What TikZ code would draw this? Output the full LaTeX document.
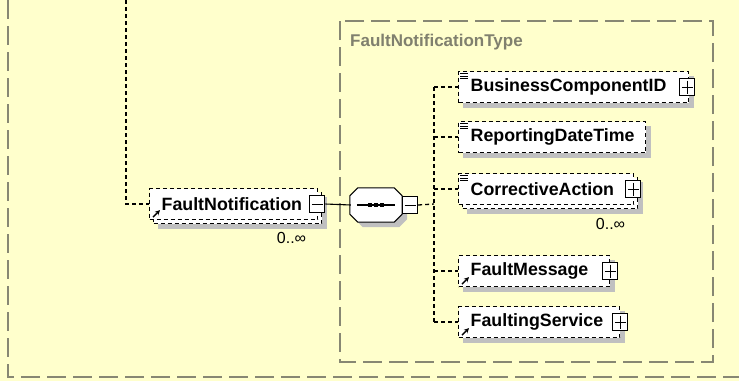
\documentclass[tikz,border=0pt]{standalone}
\usepackage{fontspec}
\setmainfont{Liberation Sans}
\usetikzlibrary{positioning,arrows.meta}
\definecolor{bgyellow}{RGB}{255,255,204}
\definecolor{framegray}{RGB}{135,135,115}
\definecolor{shadowgray}{RGB}{192,192,192}
\definecolor{typegray}{RGB}{128,128,110}
\pgfdeclarelayer{bg}
\pgfsetlayers{bg,main}

\begin{document}
\begin{tikzpicture}[x=1pt,y=-1pt,
  elem/.style={draw,dash pattern=on 4pt off 3pt,line width=1.3pt,fill=white,
    font=\fontsize{17.8}{20}\selectfont\bfseries,text width=#1pt,align=left,
    inner xsep=12pt,inner ysep=0pt,minimum height=31pt,anchor=west},
  collapsebox/.style={draw,solid,line width=1pt,fill=white,minimum width=15pt,minimum height=17pt,inner sep=0pt,
    path picture={\draw[line width=0.9pt] ([xshift=2pt]path picture bounding box.west) -- ([xshift=-2pt]path picture bounding box.east);}},
  expandbox/.style={collapsebox,
    path picture={\draw[line width=0.9pt] ([xshift=2pt]path picture bounding box.west) -- ([xshift=-2pt]path picture bounding box.east)
      ([yshift=-2pt]path picture bounding box.north) -- ([yshift=2pt]path picture bounding box.south);}},
  link/.style={draw,dash pattern=on 4pt off 3pt,line width=1.3pt},
  frame/.style={draw=framegray,line width=1.1pt,dash pattern=on 19pt off 7pt}]
\tikzstyle{seqbox}=[minimum width=52pt,minimum height=34pt,inner sep=0pt]
\tikzstyle{card}=[font=\fontsize{16}{18}\selectfont,inner sep=0pt]

\begin{pgfonlayer}{bg}
\fill[bgyellow] (0,0) rectangle (739,381);
\end{pgfonlayer}
\useasboundingbox (0,0) rectangle (739,381);

% frames
\draw[frame] (8,0) -- (8,377) -- (739,377);
\draw[frame] (340,21) rectangle (713,362);
\node[anchor=west,text=typegray,font=\fontsize{17}{20}\selectfont\bfseries,inner sep=0pt] (tl) at (350,42) {FaultNotificationType};

% global element
\node[elem=144] (fnb) at (153,208) {\phantom{FaultNotification}};
\node[elem=144] (fn) at (149,204) {FaultNotification};
\node[collapsebox] (fnm) at ([xshift=-1pt]fn.east) {};
\node[card,below left=8pt and 16pt of fnb.south east] (fnc) {0..∞};

% sequence
\node[seqbox] (sq) at (376,205) {};
\draw[line width=1pt,fill=white] ([xshift=8pt]sq.north west) -- ([xshift=-8pt]sq.north east) -- ([yshift=-8pt]sq.north east)
  -- ([yshift=8pt]sq.south east) -- ([xshift=-8pt]sq.south east) -- ([xshift=8pt]sq.south west)
  -- ([yshift=8pt]sq.south west) -- ([yshift=-8pt]sq.north west) -- cycle;
\node[collapsebox,right=0pt of sq] (sqm) {};
\draw[line width=1.3pt] ([xshift=7pt]sq.west) -- ([xshift=-7pt]sq.east);
\foreach \d in {-6,0,6}
  \fill ([xshift=\d pt]sq.center) +(-2.2,-2.2) rectangle +(2.2,2.2);

% children
\node[elem=206] (bc) at (458,87) {BusinessComponentID};
\node[expandbox] (bcp) at ([xshift=-2pt]bc.east) {};
\node[elem=163] (rd) at (458,137) {ReportingDateTime};
\node[elem=151] (cab) at (462,193) {\phantom{CorrectiveAction}};
\node[elem=151] (ca) at (458,189) {CorrectiveAction};
\node[expandbox] (cap) at ([xshift=-1pt]ca.east) {};
\node[card,below left=9pt and 13pt of cab.south east] (cac) {0..∞};
\node[elem=127] (fm) at (458,271) {FaultMessage};
\node[expandbox] (fmp) at (fm.east) {};
\node[elem=137] (fs) at (458,322) {FaultingService};
\node[expandbox] (fsp) at (fs.east) {};

% shadows
\begin{pgfonlayer}{bg}
\foreach \n in {fnb,bc,rd,cab,fm,fs}
  \fill[shadowgray] ([shift={(5,5)}]\n.north west) rectangle ([shift={(5,5)}]\n.south east);
\fill[shadowgray,transform canvas={shift={(5pt,-5pt)}}] ([xshift=8pt]sq.north west) -- ([xshift=-8pt]sq.north east) -- ([yshift=-8pt]sq.north east)
  -- ([yshift=8pt]sq.south east) -- ([xshift=-8pt]sq.south east) -- ([xshift=8pt]sq.south west)
  -- ([yshift=8pt]sq.south west) -- ([yshift=-8pt]sq.north west) -- cycle;
\end{pgfonlayer}

% icons
\foreach \n in {bc,rd,ca}
  \foreach \k in {3,5.5,8}
    \draw[line width=0.9pt] ([shift={(2,\k)}]\n.north west) -- ++(8,0);
\foreach \n in {fn,fm,fs}
  \draw[-{Stealth[length=5pt,width=5pt]},line width=1.4pt] ([shift={(4,-3)}]\n.south west) -- ++(7,-7);

% connectors
\coordinate (top) at (126,0);
\coordinate (bus) at (434,204);
\draw[link] (top) |- (fn.west);
\draw[line width=1.1pt] (fnm.east) -- ([xshift=1pt]sq.west);
\draw[link] (sqm.east) -- (bus);
\draw[link] (bus |- bc.west) -- (bus |- fs.west);
\foreach \n in {bc,rd,ca,fm,fs}
  \draw[link] (bus |- \n.west) -- (\n.west);
\end{tikzpicture}
\end{document}
